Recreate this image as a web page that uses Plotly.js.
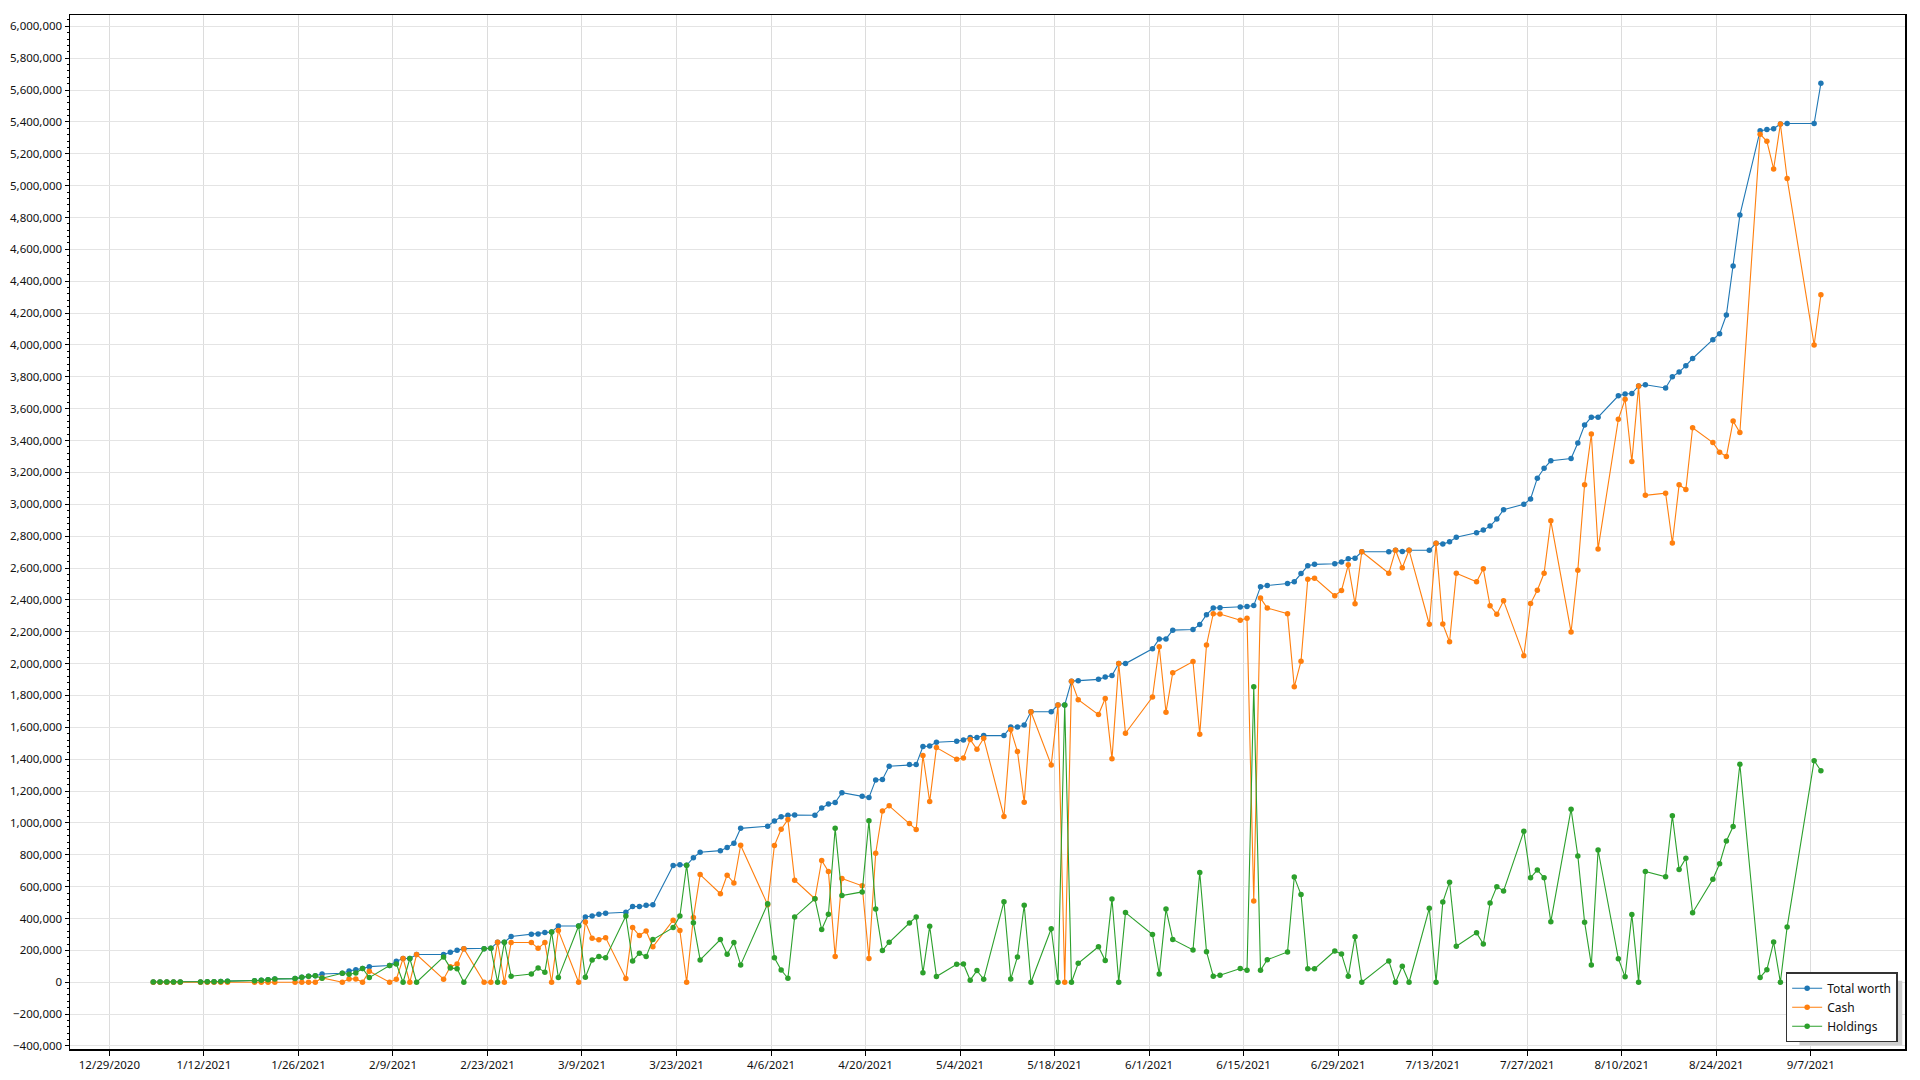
<!DOCTYPE html>
<html>
<head>
<meta charset="utf-8">
<script src="https://cdn.plot.ly/plotly-3.0.1.min.js"></script>
<style>html,body{margin:0;padding:0;background:#fff;}#chart{width:1920px;height:1080px;}</style>
</head>
<body>
<div id="chart"></div>
<script>
const dates = [
  '2021-01-04','2021-01-05','2021-01-06','2021-01-07','2021-01-08','2021-01-11','2021-01-12','2021-01-13','2021-01-14','2021-01-15',
  '2021-01-19','2021-01-20','2021-01-21','2021-01-22','2021-01-25','2021-01-26','2021-01-27','2021-01-28','2021-01-29',
  '2021-02-01','2021-02-02','2021-02-03','2021-02-04','2021-02-05','2021-02-08','2021-02-09','2021-02-10','2021-02-11','2021-02-12',
  '2021-02-16','2021-02-17','2021-02-18','2021-02-19','2021-02-22','2021-02-23','2021-02-24','2021-02-25','2021-02-26',
  '2021-03-01','2021-03-02','2021-03-03','2021-03-04','2021-03-05','2021-03-08','2021-03-09','2021-03-10','2021-03-11','2021-03-12',
  '2021-03-15','2021-03-16','2021-03-17','2021-03-18','2021-03-19','2021-03-22','2021-03-23','2021-03-24','2021-03-25','2021-03-26',
  '2021-03-29','2021-03-30','2021-03-31',
  '2021-04-01','2021-04-05','2021-04-06','2021-04-07','2021-04-08','2021-04-09','2021-04-12','2021-04-13','2021-04-14','2021-04-15','2021-04-16',
  '2021-04-19','2021-04-20','2021-04-21','2021-04-22','2021-04-23','2021-04-26','2021-04-27','2021-04-28','2021-04-29','2021-04-30',
  '2021-05-03','2021-05-04','2021-05-05','2021-05-06','2021-05-07','2021-05-10','2021-05-11','2021-05-12','2021-05-13','2021-05-14',
  '2021-05-17','2021-05-18','2021-05-19','2021-05-20','2021-05-21','2021-05-24','2021-05-25','2021-05-26','2021-05-27','2021-05-28',
  '2021-06-01','2021-06-02','2021-06-03','2021-06-04','2021-06-07','2021-06-08','2021-06-09','2021-06-10','2021-06-11',
  '2021-06-14','2021-06-15','2021-06-16','2021-06-17','2021-06-18','2021-06-21','2021-06-22','2021-06-23','2021-06-24','2021-06-25',
  '2021-06-28','2021-06-29','2021-06-30',
  '2021-07-01','2021-07-02','2021-07-06','2021-07-07','2021-07-08','2021-07-09','2021-07-12','2021-07-13','2021-07-14','2021-07-15','2021-07-16',
  '2021-07-19','2021-07-20','2021-07-21','2021-07-22','2021-07-23','2021-07-26','2021-07-27','2021-07-28','2021-07-29','2021-07-30',
  '2021-08-02','2021-08-03','2021-08-04','2021-08-05','2021-08-06','2021-08-09','2021-08-10','2021-08-11','2021-08-12','2021-08-13',
  '2021-08-16','2021-08-17','2021-08-18','2021-08-19','2021-08-20','2021-08-23','2021-08-24','2021-08-25','2021-08-26','2021-08-27',
  '2021-08-30','2021-08-31',
  '2021-09-01','2021-09-02','2021-09-03','2021-09-07','2021-09-08'
];

const totalWorth = [
  1500,1500,1500,1600,1800, 2000,2500,3000,4500,7000, 9000,12000,16000,21000, 23000,31000,38000,40000,52000,
  56000,71000,79000,86000,98000, 105000,132000,149000,149000,174000, 174000,188000,201000,211000, 211000,213000,251000,251000,287000,
  301000,303000,312000,316000,353000, 353000,410000,416000,427000,433000, 439000,475000,475000,483000,487000, 732000,738000,734000,782000,816000, 826000,845000,872000,
  966000, 979000,1012000,1038000,1048000,1050000, 1048000,1094000,1119000,1128000,1190000, 1167000,1159000,1270000,1272000,1356000, 1366000,1366000,1479000,1483000,1506000,
  1513000,1521000,1536000,1536000,1548000, 1548000,1602000,1602000,1614000,1698000, 1698000,1740000,1740000,1890000,1892000, 1901000,1916000,1925000,2000000,2000000,
  2093000,2155000,2155000,2210000, 2214000,2245000,2307000,2349000,2351000, 2355000,2358000,2364000,2483000,2490000, 2503000,2514000,2565000,2614000,2623000, 2627000,2638000,2658000,
  2662000,2702000, 2702000,2711000,2703000,2711000, 2711000,2755000,2750000,2765000,2793000, 2821000,2838000,2863000,2907000,2966000, 3000000,3033000,3164000,3226000,3273000,
  3287000,3385000,3497000,3547000,3547000, 3681000,3692000,3695000,3743000,3750000, 3730000,3800000,3830000,3870000,3915000, 4033000,4071000,4188000,4496000,4815000, 5345000,5353000,
  5357000,5387000,5390000,5390000,5642000
];

const cash = [
  0,0,0,0,0, 0,0,0,0,0, 0,0,0,0, 0,0,0,0,27000,
  0,21000,21000,0,69000, 0,19000,149000,0,174000, 19000,98000,115000,211000, 0,0,251000,0,249000,
  249000,213000,249000,0,324000, 0,378000,276000,266000,280000, 23000,343000,293000,322000,222000, 389000,324000,0,406000,676000, 556000,672000,623000,
  860000, 487000,858000,960000,1021000,640000, 524000,764000,695000,161000,651000, 605000,149000,810000,1075000,1107000, 996000,958000,1423000,1134000,1473000,
  1400000,1408000,1523000,1462000,1531000, 1040000,1587000,1448000,1130000,1698000, 1364000,1740000,0,1890000,1773000, 1680000,1781000,1402000,2000000,1563000,
  1790000,2106000,1695000,1943000, 2013000,1556000,2117000,2313000,2311000, 2272000,2285000,510000,2411000,2349000, 2313000,1854000,2015000,2530000,2536000, 2426000,2459000,2620000,
  2375000,2702000, 2567000,2711000,2602000,2711000, 2247000,2755000,2248000,2137000,2567000, 2514000,2595000,2363000,2310000,2394000, 2050000,2377000,2461000,2567000,2896000,
  2198000,2586000,3123000,3441000,2720000, 3533000,3659000,3268000,3743000,3056000, 3070000,2757000,3122000,3093000,3480000, 3387000,3327000,3300000,3522000,3451000, 5323000,5278000,
  5105000,5387000,5045000,4000000,4315000
];

const holdings = [
  1500,1500,1500,1600,1800, 2000,2500,3000,4500,7000, 9000,12000,16000,21000, 23000,31000,38000,40000,25000,
  56000,50000,58000,86000,29000, 105000,115000,0,149000,0, 159000,90000,84000,0, 211000,213000,0,251000,38000,
  52000,90000,63000,316000,29000, 353000,31000,140000,161000,153000, 416000,134000,182000,161000,268000, 343000,416000,734000,374000,140000, 268000,176000,249000,
  109000, 492000,153000,77000,25000,410000, 524000,331000,427000,966000,544000, 567000,1013000,460000,199000,251000, 372000,410000,59000,351000,36000,
  113000,115000,13000,73000,19000, 506000,20000,159000,483000,0, 336000,0,1740000,0,119000, 223000,137000,523000,0,437000,
  300000,51000,459000,269000, 203000,689000,192000,38000,44000, 86000,75000,1854000,75000,141000, 190000,660000,550000,84000,84000, 196000,177000,38000,
  285000,0, 134000,0,100000,0, 464000,0,503000,628000,226000, 310000,240000,497000,600000,573000, 947000,656000,704000,656000,380000,
  1086000,793000,377000,109000,830000, 148000,34000,425000,0,695000, 662000,1045000,707000,778000,436000, 647000,744000,887000,977000,1368000, 30000,79000,
  252000,0,346000,1391000,1327000
];

const seriesNames = ['Total worth', 'Cash', 'Holdings'];
const seriesColors = ['#1f77b4', '#ff7f0e', '#2ca02c'];

const xs = dates.map(d => d + ' 12:00');

function mk(name, y, color) {
  return {
    type: 'scatter', mode: 'lines+markers', name: name, x: xs, y: y,
    line: {color: color, width: 1.1},
    marker: {color: color, size: 5.5, line: {width: 0}}
  };
}

const data = [
  mk(seriesNames[0], totalWorth, seriesColors[0]),
  mk(seriesNames[1], cash, seriesColors[1]),
  mk(seriesNames[2], holdings, seriesColors[2])
];

const layout = {
  width: 1920, height: 1080,
  margin: {l: 70, r: 15, t: 15, b: 31, pad: 0},
  paper_bgcolor: '#ffffff', plot_bgcolor: '#ffffff',
  font: {family: '"Noto Sans", "Open Sans", sans-serif', size: 11.5, color: '#111'},
  showlegend: true,
  xaxis: {
    type: 'date',
    range: ['2020-12-23 04:00', '2021-09-20 23:00'],
    tick0: '2020-12-29', dtick: 14 * 86400000,
    tickformat: '%-m/%-d/%Y',
    ticks: 'outside', ticklen: 5, tickcolor: '#000', tickwidth: 1,
    showgrid: true, gridcolor: '#dcdcdc', gridwidth: 1,
    showline: true, linecolor: '#000', linewidth: 1.5, mirror: true,
    zeroline: false, fixedrange: true
  },
  yaxis: {
    range: [-419000, 6071000],
    tick0: 0, dtick: 200000,
    tickformat: ',d',
    ticks: 'outside', ticklen: 4, tickcolor: '#000', tickwidth: 1,
    minor: {dtick: 40000, ticks: 'outside', ticklen: 2, tickcolor: '#000', showgrid: false},
    showgrid: true, gridcolor: '#e4e4e4', gridwidth: 1,
    showline: true, linecolor: '#000', linewidth: 1.5, mirror: true,
    zeroline: false, fixedrange: true
  },
  legend: {
    x: 0.996, y: 0.0065, xanchor: 'right', yanchor: 'bottom',
    bgcolor: '#ffffff', bordercolor: '#333', borderwidth: 1.5,
    font: {size: 12, color: '#111'}, itemwidth: 30, tracegroupgap: 0
  },
  shapes: [{
    type: 'rect', xref: 'paper', yref: 'paper', layer: 'above',
    x0: 0.9425, x1: 0.9985, y0: 0.0035, y1: 0.066,
    fillcolor: '#cfcfcf', line: {width: 0}
  }]
};

Plotly.newPlot('chart', data, layout, {displayModeBar: false, staticPlot: true});
</script>
</body>
</html>
